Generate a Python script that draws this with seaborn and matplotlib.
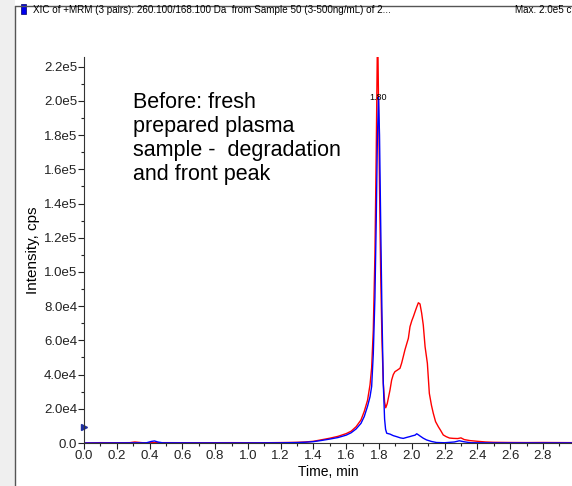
import pandas as pd
import seaborn as sns
import matplotlib.pyplot as plt
from matplotlib.lines import Line2D
from matplotlib.patches import Rectangle
from matplotlib.ticker import MultipleLocator

# red trace
red_time = [0.0, 0.1, 0.2, 0.28, 0.31, 0.33, 0.36, 0.5, 0.7, 0.9, 1.1, 1.2, 1.3, 1.35,
            1.4, 1.45, 1.5, 1.55, 1.6, 1.63, 1.66, 1.69, 1.71, 1.73, 1.745, 1.755,
            1.765, 1.775, 1.783, 1.789, 1.792, 1.797, 1.803, 1.81, 1.818, 1.826,
            1.834, 1.841, 1.85, 1.867, 1.877, 1.887, 1.897, 1.91, 1.928, 1.938,
            1.948, 1.958, 1.969, 1.979, 1.989, 2.0, 2.01, 2.02, 2.03, 2.04, 2.05,
            2.06, 2.07, 2.081, 2.095, 2.107, 2.12, 2.131, 2.145, 2.162, 2.175,
            2.192, 2.21, 2.23, 2.253, 2.28, 2.3, 2.32, 2.355, 2.4, 2.45, 2.5, 2.6,
            2.7, 2.8, 2.9, 3.0]
red_int = [0, 200, 150, 200, 600, 400, 150, 200, 150, 200, 150, 250, 400, 600,
           1000, 1900, 2800, 3900, 5500, 6900, 9500, 13500, 18500, 25000, 34000, 44000,
           66000, 110000, 170000, 225000, 240000, 200000, 150000, 100000, 60000, 35000,
           24000, 20600, 23000, 31000, 36800, 40000, 41700, 42500, 43700, 46700,
           50500, 54400, 58000, 61200, 68000, 71500, 74000, 76800, 79500, 82000, 81300,
           76000, 69000, 56300, 46600, 29000, 22000, 17400, 12500, 9500, 7500,
           4700, 3700, 2900, 2700, 2600, 3000, 2000, 1400, 1000, 600, 400, 300,
           250, 300, 250, 200]

# blue trace
blue_time = [0.0, 0.2, 0.38, 0.41, 0.43, 0.45, 0.48, 0.7, 1.0, 1.2, 1.3, 1.35, 1.4,
             1.45, 1.5, 1.55, 1.6, 1.63, 1.66, 1.69, 1.71, 1.73, 1.745, 1.755, 1.765,
             1.775, 1.783, 1.79, 1.797, 1.803, 1.81, 1.818, 1.826, 1.834, 1.84, 1.847,
             1.867, 1.887, 1.908, 1.93, 1.948, 1.97, 1.99, 2.0, 2.02, 2.03, 2.04, 2.05,
             2.07, 2.09, 2.12, 2.15, 2.2, 2.26, 2.29, 2.32, 2.36, 2.5, 2.7, 3.0]
blue_int = [0, 50, 100, 900, 1200, 600, 100, 50, 50, 100, 250, 450, 800,
            1500, 2300, 3200, 4600, 6000, 8200, 11500, 15500, 21500, 27000, 33000, 52000,
            85000, 130000, 178000, 202000, 180000, 130000, 75000, 35000, 14000, 8000, 5700,
            5200, 4300, 3700, 3000, 2700, 3300, 3800, 4100, 4600, 5400, 4800, 4100,
            2800, 1800, 900, 300, 150, 600, 1300, 700, 150, 50, 50, 50]

x_ticks = [0.0, 0.2, 0.4, 0.6, 0.8, 1.0, 1.2, 1.4, 1.6, 1.8, 2.0, 2.2, 2.4, 2.6, 2.8]
y_ticks = [0, 2e4, 4e4, 6e4, 8e4, 1e5, 1.2e5, 1.4e5, 1.6e5, 1.8e5, 2e5, 2.2e5]
y_labels = ['0.0', '2.0e4', '4.0e4', '6.0e4', '8.0e4', '1.0e5', '1.2e5', '1.4e5',
            '1.6e5', '1.8e5', '2.0e5', '2.2e5']

title = 'XIC of +MRM (3 pairs): 260.100/168.100 Da  from Sample 50 (3-500ng/mL) of 2...'
note = 'Before: fresh\nprepared plasma\nsample -  degradation\nand front peak'

red_df = pd.DataFrame({'time': red_time, 'intensity': red_int})
blue_df = pd.DataFrame({'time': blue_time, 'intensity': blue_int})

sns.set_style('ticks')
plt.rcParams['font.family'] = ['Liberation Sans', 'DejaVu Sans']
plt.rcParams['text.color'] = 'black'
plt.rcParams['xtick.color'] = '#222222'
plt.rcParams['ytick.color'] = '#222222'
plt.rcParams['axes.labelcolor'] = 'black'

W, H = 572, 486
fig = plt.figure(figsize=(W / 100, H / 100), dpi=100)
ax = fig.add_axes([84 / W, (H - 443) / H, (W - 84) / W, (443 - 57) / H])

sns.lineplot(data=red_df, x='time', y='intensity', color='#ff0000', lw=1.0,
             estimator=None, sort=False, ax=ax)
sns.lineplot(data=blue_df, x='time', y='intensity', color='#0000ff', lw=1.0,
             estimator=None, sort=False, ax=ax)

ax.set_xlim(0, (W - 84) / 163.9)
ax.set_ylim(0, 225700)
ax.set_xticks(x_ticks)
ax.set_xticklabels([f'{t:.1f}' for t in x_ticks])
ax.set_yticks(y_ticks)
ax.set_yticklabels(y_labels)
ax.xaxis.set_minor_locator(MultipleLocator(0.1))
ax.yaxis.set_minor_locator(MultipleLocator(1e4))
ax.tick_params(which='major', length=4, width=0.8, labelsize=9.5, pad=1)
ax.tick_params(which='minor', length=2, width=0.8)
for s in ['top', 'right']:
    ax.spines[s].set_visible(False)
for s in ['left', 'bottom']:
    ax.spines[s].set_color('#333333')
    ax.spines[s].set_linewidth(0.8)

ax.set_xlabel('Time, min', fontsize=10, labelpad=2)
ax.set_ylabel('Intensity, cps', fontsize=11, labelpad=3)

ax.text(1.797, 202000, '1.80', fontsize=6.5, ha='center', va='center')
ax.text(0.3, 205000, note, fontsize=15.5, va='top', ha='left', linespacing=1.17)
ax.plot([0], [9400], marker='>', color='#1f2f9f', markersize=4, clip_on=False,
        transform=ax.get_yaxis_transform())

# window frame
fig.add_artist(Rectangle((0, 0), 15 / W, 1, transform=fig.transFigure,
                         facecolor='#efefef', edgecolor='none'))
fig.add_artist(Line2D([15 / W, 15 / W], [0, 1 - 6 / H], transform=fig.transFigure,
                      color='#555555', lw=1))
fig.add_artist(Line2D([15 / W, 1], [1 - 6 / H, 1 - 6 / H], transform=fig.transFigure,
                      color='#555555', lw=1))
fig.add_artist(Rectangle((21 / W, 1 - 14 / H), 5 / W, 10 / H, transform=fig.transFigure,
                         facecolor='#0000ee', edgecolor='#000066', lw=0.5))
fig.text(33 / W, 1 - 10 / H, title, fontsize=7.1, va='center', ha='left')
fig.text(515 / W, 1 - 10 / H, 'Max. 2.0e5 c', fontsize=7.1, va='center', ha='left')

fig.savefig('out.png', dpi=100)
